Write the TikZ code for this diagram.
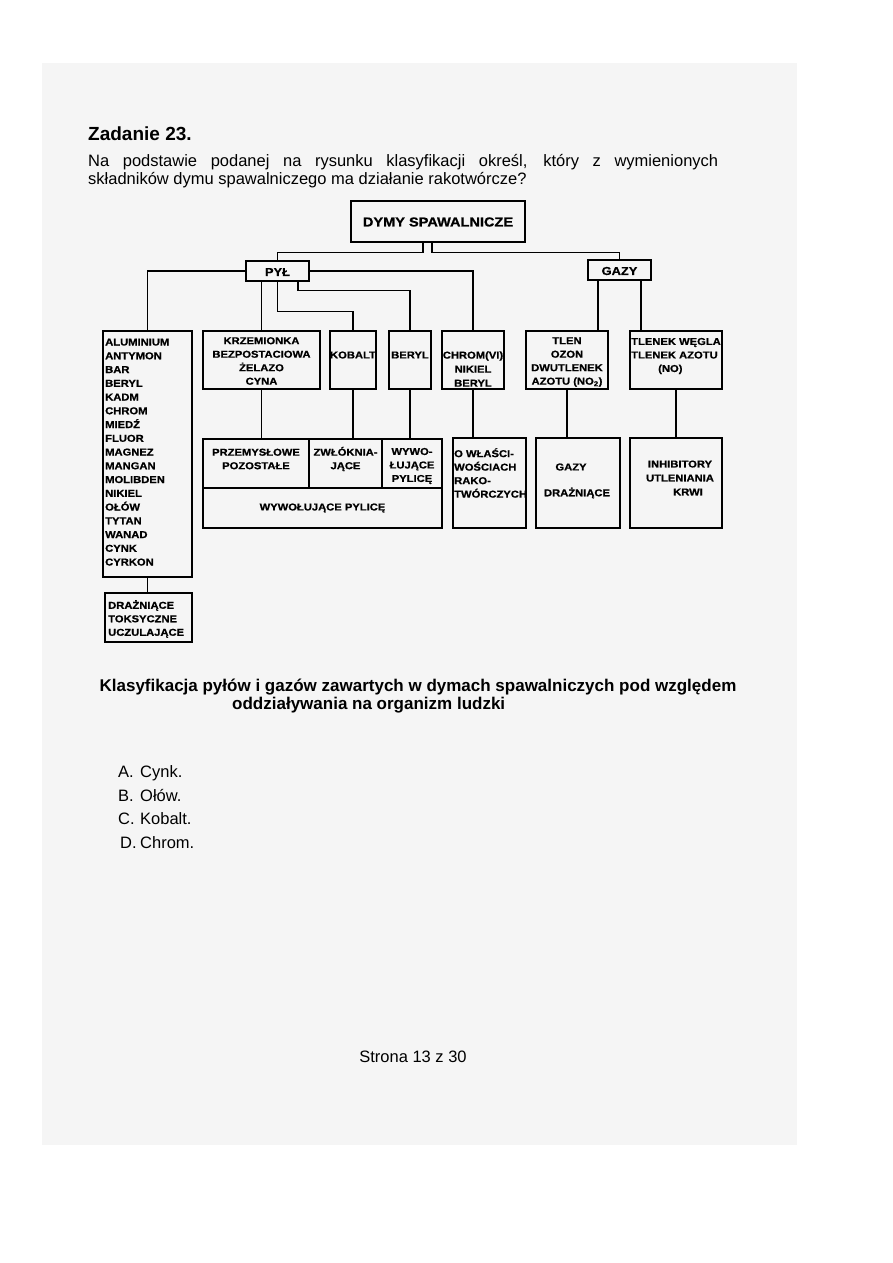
\documentclass[tikz,border=0pt]{standalone}
\usepackage{fontspec}
\setmainfont{Liberation Sans}[BoldFont={Liberation Sans Bold}]
\newfontfamily\boxfont{Liberation Sans}[FakeStretch=1.12, BoldFeatures={FakeBold=0.8}]

\begin{document}
\begin{tikzpicture}[x=1pt, y=-1pt,
  box/.style 2 args={draw, line width=1.3pt, minimum width=#1pt, minimum height=#2pt, inner sep=0pt},
  link/.style={line width=1.3pt},
  lbl/.style={font=\boxfont\bfseries\fontsize{10}{13.5}\selectfont, inner sep=0pt, align=center},
  body/.style={font=\fontsize{16.5}{18}\selectfont, inner sep=0pt, anchor=base west}]
  % page
  \fill[white] (0,0) rectangle (893,1263);
  \fill[gray!8] (42,63) rectangle (797,1145);
  \useasboundingbox (0,0) rectangle (893,1263);

  % question
  \node[body, font=\bfseries\fontsize{19}{21}\selectfont] (title) at (88,140) {Zadanie 23.};
  \node[body] (q1) at (88,166) {\makebox[630pt][s]{Na podstawie podanej na rysunku klasyfikacji określ, który z wymienionych}};
  \node[body] (q2) at (88,184) {składników dymu spawalniczego ma działanie rakotwórcze?};

  % boxes
  \node[box={174}{41}] (dymy) at (438,221.5) {};
  \node[box={63}{20}] (pyl) at (277.5,271) {};
  \node[box={63}{20}] (gazy) at (619.5,270) {};
  \node[box={89}{246}] (alu) at (147.5,454) {};
  \node[box={117}{58}] (krz) at (261.5,360) {};
  \node[box={46}{58}] (kob) at (353,360) {};
  \node[box={42}{58}] (ber) at (410,360) {};
  \node[box={62}{58}] (chr) at (473,360) {};
  \node[box={82}{58}] (tlen) at (567,360) {};
  \node[box={92}{58}] (tlk) at (676,360) {};
  \node[box={106}{49}] (przem) at (256,463.5) {};
  \node[box={73}{49}] (zwl) at (345.5,463.5) {};
  \node[box={60}{49}] (wyw) at (412,463.5) {};
  \node[box={239}{40}] (wpyl) at (322.5,508) {};
  \node[box={73}{90}] (rak) at (489.5,483) {};
  \node[box={84}{90}] (draz) at (578,483) {};
  \node[box={92}{90}] (inh) at (676,483) {};
  \node[box={87}{49}] (dtu) at (148.5,617.5) {};

  % labels
  \node[lbl, font=\boxfont\bfseries\fontsize{13}{14}\selectfont] (tdymy) at (438,222) {DYMY SPAWALNICZE};
  \node[lbl, font=\boxfont\bfseries\fontsize{11.5}{13}\selectfont] (tpyl) at (277.5,272) {PYŁ};
  \node[lbl, font=\boxfont\bfseries\fontsize{11.5}{13}\selectfont] (tgazy) at (619.5,271) {GAZY};
  \foreach \el [count=\i from 0] in {ALUMINIUM,ANTYMON,BAR,BERYL,KADM,CHROM,MIEDŹ,FLUOR,MAGNEZ,MANGAN,MOLIBDEN,NIKIEL,OŁÓW,TYTAN,WANAD,CYNK,CYRKON}
    \node[lbl, anchor=base west] (el\i) at (105,345.5+13.75*\i) {\el};
  \node[lbl] (tkrz) at (261.5,361) {KRZEMIONKA\\BEZPOSTACIOWA\\ŻELAZO\\CYNA};
  \node[lbl] (tkob) at (353,355) {KOBALT};
  \node[lbl] (tber) at (410,355) {BERYL};
  \node[lbl, font=\boxfont\bfseries\fontsize{10}{14}\selectfont] (tchr) at (473,369) {CHROM(VI)\\NIKIEL\\BERYL};
  \node[lbl] (ttlen) at (567,362) {TLEN\\OZON\\DWUTLENEK\\AZOTU (NO\textsubscript{2})};
  \node[lbl, align=left, anchor=west] (ttlk) at (631,356) {TLENEK WĘGLA\\TLENEK AZOTU\\\hspace*{27pt}(NO)};
  \node[lbl] (tprzem) at (256,459) {PRZEMYSŁOWE\\POZOSTAŁE};
  \node[lbl] (tzwl) at (345.5,459) {ZWŁÓKNIA-\\JĄCE};
  \node[lbl] (twyw) at (412,466) {WYWO-\\ŁUJĄCE\\PYLICĘ};
  \node[lbl] (twpyl) at (322.5,508) {WYWOŁUJĄCE PYLICĘ};
  \node[lbl, align=left, anchor=west] (trak) at (454,473) {O WŁAŚCI-\\WOŚCIACH\\RAKO-\\TWÓRCZYCH};
  \node[lbl] (tgaz) at (571,467) {GAZY};
  \node[lbl] (tdraz) at (577,493) {DRAŻNIĄCE};
  \node[lbl, font=\boxfont\bfseries\fontsize{10}{14}\selectfont] (tinh) at (680,478) {INHIBITORY\\UTLENIANIA\\\hspace*{16pt}KRWI};
  \node[lbl, align=left, anchor=west] (tdtu) at (108,619) {DRAŻNIĄCE\\TOKSYCZNE\\UCZULAJĄCE};

  % connectors
  \draw[link] (dymy.south -| 423,0) -- ++(0,10) -| (pyl.north);
  \draw[link] (dymy.south -| 432,0) -- ++(0,10) -| (gazy.north);
  \draw[link] (pyl.west) -| (alu.north);
  \draw[link] (pyl.east) -| (chr.north);
  \draw[link] (krz.north |- pyl.south) -- (krz.north);
  \draw[link] (pyl.south) -- ++(0,30) -| (kob.north);
  \draw[link] (pyl.south -| 298,0) -- ++(0,9) -| (ber.north);
  \draw[link] (gazy.south -| 598,0) -- (tlen.north -| 598,0);
  \draw[link] (gazy.south -| 641,0) -- (tlk.north -| 641,0);
  \draw[link] (alu.south) -- (alu.south |- dtu.north);
  \draw[link] (krz.south) -- (krz.south |- przem.north);
  \draw[link] (kob.south) -- (kob.south |- zwl.north);
  \draw[link] (ber.south) -- (ber.south |- wyw.north);
  \draw[link] (chr.south) -- (chr.south |- rak.north);
  \draw[link] (tlen.south) -- (tlen.south |- draz.north);
  \draw[link] (tlk.south) -- (tlk.south |- inh.north);

  % caption and answers
  \node[inner sep=0pt, anchor=base, font=\bfseries\fontsize{17}{19}\selectfont] (cap1) at (418,691) {Klasyfikacja pyłów i gazów zawartych w dymach spawalniczych pod względem};
  \node[inner sep=0pt, anchor=base west, font=\bfseries\fontsize{17}{19}\selectfont] (cap2) at (232,709) {oddziaływania na organizm ludzki};
  \node[body] (optA) at (118,777) {\makebox[22pt][l]{A.}Cynk.};
  \node[body] (optB) at (118,801) {\makebox[22pt][l]{B.}Ołów.};
  \node[body] (optC) at (118,824) {\makebox[22pt][l]{C.}Kobalt.};
  \node[body] (optD) at (120,848) {\makebox[20pt][l]{D.}Chrom.};
  \node[body, anchor=base] (page) at (413,1062) {Strona 13 z 30};
\end{tikzpicture}
\end{document}
